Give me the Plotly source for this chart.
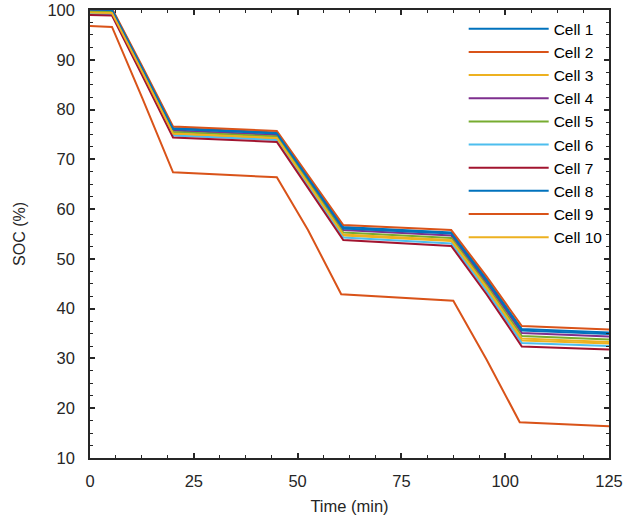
import plotly.graph_objects as go

# Time keypoints (min)
t_main = [0, 5.3, 12.5, 20, 45, 52.5, 61, 87, 95.5, 100, 104, 125]
t_low = [0, 5.3, 12.5, 20, 45, 52.5, 60.5, 87.5, 95.5, 100, 103.5, 125]

cell1 = [100.2, 100.1, 88.5, 76.3, 75.4, 66.4, 56.4, 55.3, 46.0, 40.6, 35.9, 35.2]
cell2 = [100.4, 100.3, 88.8, 76.6, 75.7, 66.8, 56.8, 55.8, 46.5, 41.2, 36.5, 35.8]
cell3 = [99.4, 99.3, 87.5, 75.1, 74.2, 65.0, 54.7, 53.6, 44.0, 38.5, 33.6, 33.0]
cell4 = [99.9, 99.8, 88.2, 75.8, 74.9, 65.9, 55.8, 54.7, 45.2, 39.9, 35.1, 34.4]
cell5 = [99.7, 99.6, 87.9, 75.5, 74.6, 65.5, 55.3, 54.2, 44.7, 39.3, 34.5, 33.8]
cell6 = [99.2, 99.1, 87.3, 74.8, 73.9, 64.6, 54.3, 53.1, 43.5, 38.1, 33.1, 32.5]
cell7 = [99.0, 98.9, 87.0, 74.4, 73.5, 64.2, 53.8, 52.6, 42.9, 37.4, 32.4, 31.8]
cell8 = [100.1, 100.0, 88.4, 76.1, 75.2, 66.2, 56.1, 55.1, 45.7, 40.4, 35.6, 34.9]
cell9 = [96.8, 96.6, 82.5, 67.4, 66.4, 55.8, 42.9, 41.6, 29.8, 22.8, 17.2, 16.4]
cell10 = [99.5, 99.4, 87.7, 75.2, 74.3, 65.2, 54.9, 53.8, 44.3, 38.8, 34.0, 33.3]

names = ["Cell 1", "Cell 2", "Cell 3", "Cell 4", "Cell 5",
         "Cell 6", "Cell 7", "Cell 8", "Cell 9", "Cell 10"]
series = [cell1, cell2, cell3, cell4, cell5, cell6, cell7, cell8, cell9, cell10]
times = [t_main] * 8 + [t_low, t_main]
colors = ["#0072BD", "#D95319", "#EDB120", "#7E2F8E", "#77AC30",
          "#4DBEEE", "#A2142F", "#0072BD", "#D95319", "#EDB120"]

FONT = "Liberation Sans, Arial"

fig = go.Figure()
for n, t, y, c in zip(names, times, series, colors):
    fig.add_trace(go.Scatter(x=t, y=y, mode="lines", name=n,
                             line=dict(color=c, width=2)))

axis_common = dict(
    showline=True, linecolor="#262626", linewidth=1.5, mirror="ticks",
    ticks="inside", ticklen=5, tickwidth=1.5, tickcolor="#262626",
    showgrid=False, zeroline=False, automargin=False,
    tickfont=dict(family=FONT, size=16.5, color="#262626"),
)

fig.update_xaxes(range=[0, 125], tickvals=[0, 25, 50, 75, 100, 125],
                 ticklabelstandoff=7,
                 title=dict(text="Time (min)", standoff=12,
                            font=dict(family=FONT, size=16.5, color="#262626")),
                 minor=dict(ticks="inside", dtick=6.25, ticklen=3, tickcolor="#262626", tickwidth=1.2),
                 **axis_common)
fig.update_yaxes(range=[10, 100], tickvals=list(range(10, 101, 10)),
                 ticklabelstandoff=10,
                 title=dict(text="SOC (%)", standoff=18,
                            font=dict(family=FONT, size=16, color="#262626")),
                 minor=dict(ticks="inside", dtick=2.5, ticklen=3, tickcolor="#262626", tickwidth=1.2),
                 **axis_common)

fig.update_layout(
    width=639, height=521,
    margin=dict(l=90, r=30, t=10, b=63),
    plot_bgcolor="white", paper_bgcolor="white",
    showlegend=True,
    legend=dict(x=0.72, y=0.995, xanchor="left", yanchor="top",
                bgcolor="rgba(255,255,255,0)", borderwidth=0,
                font=dict(family=FONT, size=15.5, color="#000000"),
                itemwidth=80, tracegroupgap=0),
)

fig.write_html("out.html")
